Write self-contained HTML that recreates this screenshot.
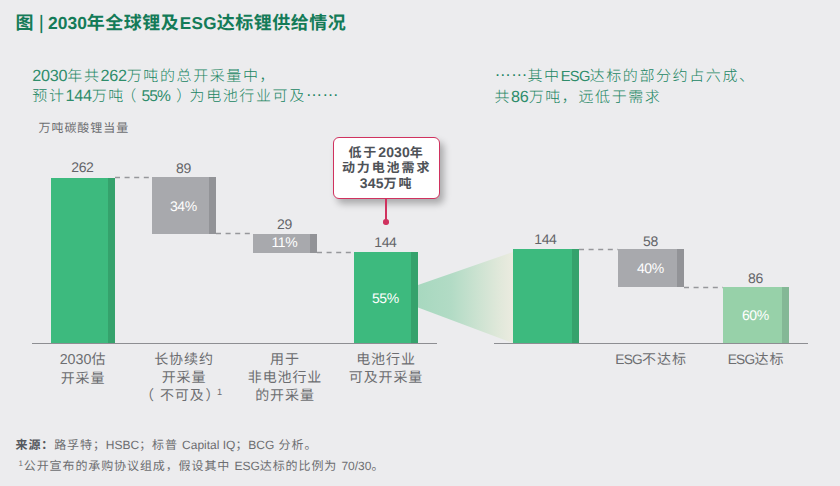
<!DOCTYPE html>
<html lang="zh-CN">
<head>
<meta charset="utf-8">
<title>2030年全球锂及ESG达标锂供给情况</title>
<style>
html,body{margin:0;padding:0;}
body{width:840px;height:486px;background:#ececee;position:relative;overflow:hidden;
  font-family:"Liberation Sans","Noto Sans CJK SC",sans-serif;color:#6d6e71;text-rendering:geometricPrecision;}
.abs{position:absolute;white-space:nowrap;}
.title{left:15.4px;top:10.3px;font-size:18px;letter-spacing:0.5px;line-height:26px;font-weight:bold;color:#147b58;}
.title .bar1{font-weight:normal;font-size:19.5px;letter-spacing:0;margin:0 4.3px 0 4.8px;position:relative;top:-0.5px;}
.sub{font-size:15px;letter-spacing:1.6px;line-height:19.5px;color:#208562;font-weight:300;}
.unit{left:38.5px;top:118px;font-size:12px;letter-spacing:0.95px;line-height:20px;}
.bar{position:absolute;}
.bar i{position:absolute;right:0;top:0;bottom:0;width:7px;}
.g{background:#3dba7e;} .g i{background:#35a26c;}
.k{background:#a8a9ad;} .k i{background:#929397;}
.l{background:#97d1a9;} .l i{background:#84b896;}
.val{position:absolute;width:80px;text-align:center;font-size:14px;letter-spacing:-0.35px;line-height:14px;margin-top:-0.1px;margin-left:-0.6px;color:#636468;}
.pct{position:absolute;width:80px;text-align:center;font-size:14px;letter-spacing:-0.35px;line-height:14px;margin-top:-0.1px;margin-left:-0.6px;color:#fff;}
.axis{position:absolute;height:1px;background:#8d8e92;top:343px;}
.lab{position:absolute;width:140px;text-align:center;font-size:14px;letter-spacing:0.9px;line-height:18px;color:#6d6e71;}
.foot{font-size:12px;letter-spacing:0.9px;line-height:16px;color:#6d6e71;}
.e{font-size:1.02em;letter-spacing:0;}
.c{font-size:0.98em;letter-spacing:-0.7px;}
.title .e{font-size:0.97em;}
.sub .e{font-size:1.08em;letter-spacing:-0.25px;}
.sub .e,.sub .c{color:#2f8d6b;}
.foot .e{font-size:1em;}
.call{text-align:center;font-weight:bold;font-size:13px;letter-spacing:1.9px;line-height:14.7px;color:#4e5257;}
.call .e{font-size:14px;letter-spacing:0.1px;}
.title .c{font-size:0.95em;letter-spacing:0.35px;margin-left:0.3px;}
.el{position:relative;top:-0.3em;letter-spacing:0;font-size:1.1em;}
.pl{position:relative;left:-3px;}
.pr{position:relative;left:1px;}
.sub .pl{left:-3.6px;}
.sub .pr{left:3.2px;}
.lab .pl{left:-5px;}
.lab sup{margin-left:-2.5px;}
.sub .pc{font-size:1.04em;letter-spacing:-1px;margin-right:3.2px;}
sup{font-size:66%;line-height:0;vertical-align:baseline;position:relative;top:-0.5em;}

.z{display:inline-block;white-space:nowrap;vertical-align:baseline;}
</style>
</head>
<body>
<div class="abs title"><span class="z" style="width: 18.5px;">图</span><span class="bar1">|</span><span class="e">2030</span><span class="z" style="width: 92.5px;">年全球锂及</span><span class="c">ESG</span><span class="z" style="width: 129.5px;">达标锂供给情况</span></div>

<div class="abs sub" style="left:32.3px;top:67.2px;"><span class="e">2030</span><span class="z" style="width: 33.2px;">年共</span><span class="e">262</span><span class="z" style="width: 149.41px;">万吨的总开采量中，</span><br><span class="z" style="width: 33.2px;">预计</span><span class="e">144</span><span class="z" style="width: 33.2px;">万吨</span><span class="pl"><span class="z" style="width: 16.61px;">（</span></span><span class="e pc">55%</span><span class="pr"><span class="z" style="width: 16.61px;">）</span></span><span class="z" style="width: 116.2px;">为电池行业可及</span><span class="el">……</span></div>
<div class="abs sub" style="left:494.5px;top:67.2px;"><span class="el">……</span><span class="z" style="width: 33.2px;">其中</span><span class="c">ESG</span><span class="z" style="width: 166.02px;">达标的部分约占六成、</span><br><span class="z" style="width: 16.61px;">共</span><span class="e">86</span><span class="z" style="width: 132.81px;">万吨，远低于需求</span></div>

<div class="abs unit"><span class="z" style="width: 90.66px;">万吨碳酸锂当量</span></div>

<!-- funnel -->
<svg class="abs" style="left:0;top:0;" width="840" height="486" viewBox="0 0 840 486">
  <defs>
    <linearGradient id="fg" x1="0" y1="0" x2="1" y2="0">
      <stop offset="0" stop-color="#a7d8bf"></stop>
      <stop offset="0.35" stop-color="#b2dbc5"></stop>
      <stop offset="0.85" stop-color="#e0e8da"></stop>
      <stop offset="1" stop-color="#ebebe0"></stop>
    </linearGradient>
  </defs>
  <polygon points="418,285 513,252 513,343 418,307.5" fill="url(#fg)"></polygon>
  <g stroke="#96979b" stroke-width="1.3" stroke-dasharray="5 4.6" fill="none">
    <line x1="115" y1="177.5" x2="152" y2="177.5"></line>
    <line x1="216" y1="233.5" x2="253" y2="233.5"></line>
    <line x1="317" y1="252.5" x2="354" y2="252.5"></line>
    <line x1="579" y1="249.5" x2="618" y2="249.5"></line>
    <line x1="684" y1="287.5" x2="723" y2="287.5"></line>
  </g>
</svg>

<!-- axes -->
<div class="axis" style="left:32px;width:405px;"></div>
<div class="axis" style="left:494px;width:314px;"></div>

<!-- left bars -->
<div class="bar g" style="left:51px;top:178px;width:64px;height:165px;"><i></i></div>
<div class="bar k" style="left:152px;top:177px;width:64px;height:57px;"><i></i></div>
<div class="bar k" style="left:253px;top:234px;width:64px;height:18.5px;"><i></i></div>
<div class="bar g" style="left:354px;top:252px;width:64px;height:91px;"><i></i></div>

<!-- right bars -->
<div class="bar g" style="left:513px;top:249px;width:66px;height:94px;"><i></i></div>
<div class="bar k" style="left:618px;top:249px;width:66px;height:38px;"><i></i></div>
<div class="bar l" style="left:723px;top:287px;width:66px;height:56px;"><i></i></div>

<!-- values -->
<div class="val" style="left:43px;top:160px;">262</div>
<div class="val" style="left:144px;top:161px;">89</div>
<div class="val" style="left:245px;top:217px;">29</div>
<div class="val" style="left:346px;top:235px;">144</div>
<div class="val" style="left:506px;top:232px;">144</div>
<div class="val" style="left:611px;top:234px;">58</div>
<div class="val" style="left:716px;top:271px;">86</div>

<div class="pct" style="left:144px;top:199px;">34%</div>
<div class="pct" style="left:245px;top:235px;">11%</div>
<div class="pct" style="left:346px;top:291px;">55%</div>
<div class="pct" style="left:611px;top:261px;">40%</div>
<div class="pct" style="left:716px;top:308px;">60%</div>

<!-- callout -->
<div class="abs" style="left:333px;top:137px;width:105px;height:60px;border:1.5px solid #d0325f;border-radius:6px;background:#fff;box-shadow:4px 5px 7px rgba(0,0,0,0.28);"></div>
<div class="abs" style="left:385.35px;top:199px;width:1.3px;height:23px;background:#d0325f;"></div>
<div class="abs" style="left:383.3px;top:219.3px;width:5.4px;height:5.4px;border-radius:50%;background:#d0325f;"></div>
<div class="abs call" style="left:333.6px;top:145.2px;width:106px;"><span class="z" style="width: 29.81px;">低于</span><span class="e">2030</span><span class="z" style="width: 14.91px;">年</span><br><span class="z" style="width: 89.41px;">动力电池需求</span><br><span class="e">345</span><span class="z" style="width: 29.81px;">万吨</span></div>

<!-- axis labels -->
<div class="lab" style="left:13px;top:350px;"><span class="e">2030</span><span class="z" style="width: 14.91px;">估</span><br><span class="z" style="width: 44.7px;">开采量</span></div>
<div class="lab" style="left:114px;top:350px;"><span class="z" style="width: 59.61px;">长协续约</span><br><span class="z" style="width: 44.7px;">开采量</span><br><span class="pl"><span class="z" style="width: 14.91px;">（</span></span><span class="z" style="width: 44.7px;">不可及</span><span class="pr"><span class="z" style="width: 14.91px;">）</span></span><sup>1</sup></div>
<div class="lab" style="left:215px;top:350px;"><span class="z" style="width: 29.81px;">用于</span><br><span class="z" style="width: 74.5px;">非电池行业</span><br><span class="z" style="width: 59.61px;">的开采量</span></div>
<div class="lab" style="left:316px;top:350px;"><span class="z" style="width: 59.61px;">电池行业</span><br><span class="z" style="width: 74.5px;">可及开采量</span></div>
<div class="lab" style="left:581px;top:350px;"><span class="c">ESG</span><span class="z" style="width: 44.7px;">不达标</span></div>
<div class="lab" style="left:686px;top:350px;"><span class="c">ESG</span><span class="z" style="width: 29.81px;">达标</span></div>

<!-- footer -->
<div class="abs foot" style="left:15.5px;top:436.5px;"><b style="color:#55585d;"><span class="z" style="width: 38.7px;">来源：</span></b><span class="z" style="width: 51.61px;">路孚特；</span><span class="e">HSBC</span><span class="z" style="width: 38.7px;">；标普</span> <span class="e">Capital IQ</span><span class="z" style="width: 12.91px;">；</span><span class="e">BCG</span> <span class="z" style="width: 38.72px;">分析。</span></div>
<div class="abs foot" style="left:18.5px;top:457.5px;"><sup>1</sup><span class="z" style="width: 206.41px;">公开宣布的承购协议组成，假设其中</span> <span class="e">ESG</span><span class="z" style="width: 77.41px;">达标的比例为</span> <span class="e">70/30</span><span class="z" style="width: 12.91px;">。</span></div>
</body>
</html>
